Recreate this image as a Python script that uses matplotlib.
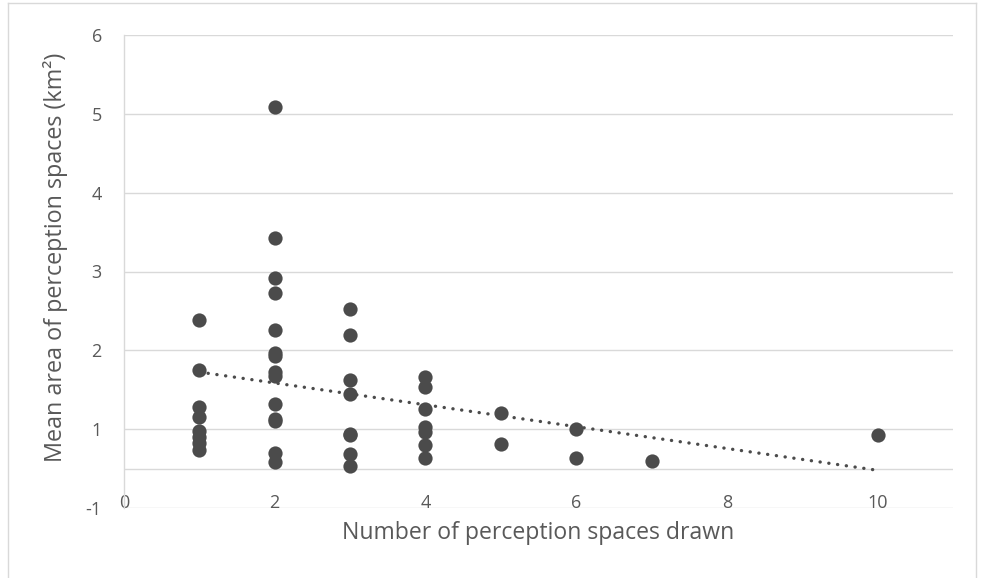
import numpy as np
import matplotlib
matplotlib.use("Agg")
import matplotlib.pyplot as plt
from matplotlib.lines import Line2D

# ---- data ----
x_vals = ([1] * 8 + [2] * 14 + [3] * 8 + [4] * 7 + [5] * 2 + [6] * 2 + [7] + [10])
y_vals = ([2.38, 1.75, 1.28, 1.16, 0.98, 0.90, 0.82, 0.74] +
          [5.09, 3.43, 2.92, 2.73, 2.26, 1.97, 1.93, 1.73, 1.67, 1.32, 1.13, 1.10, 0.70, 0.58] +
          [2.52, 2.20, 1.63, 1.45, 0.94, 0.93, 0.69, 0.53] +
          [1.66, 1.53, 1.25, 1.03, 0.96, 0.80, 0.64] +
          [1.21, 0.81] +
          [1.00, 0.64] +
          [0.60] +
          [0.93])
x_ticks = [0, 2, 4, 6, 8, 10]
x_tick_labels = ["0", "2", "4", "6", "8", "10"]
y_ticks = [0, 0.5, 1, 2, 3, 4, 5, 6]
y_tick_labels = ["-1", "", "1", "2", "3", "4", "5", "6"]
x_label = "Number of perception spaces drawn"
y_label = "Mean area of perception spaces (km²)"

plt.rcParams['font.family'] = ['Open Sans', 'DejaVu Sans']
txt = '#595959'
grid = '#d9d9d9'
mark = '#4b4b4b'

W, H = 982, 578
fig = plt.figure(figsize=(W / 100, H / 100), dpi=100)
ax = fig.add_axes([124 / W, 1 - 508 / H, (953 - 124) / W, (508 - 35) / H])

ax.set_xlim(0, 11)
ax.set_ylim(0, 6)

for yt in y_ticks:
    ax.axhline(yt, color=grid, lw=1.0, zorder=1)
for s in ['top', 'right', 'bottom']:
    ax.spines[s].set_visible(False)
ax.spines['left'].set_color(grid)
ax.spines['left'].set_linewidth(1.0)

ax.set_yticks(y_ticks, y_tick_labels)
ax.set_xticks(x_ticks, x_tick_labels)
ax.tick_params(axis='both', length=0, labelsize=13, labelcolor=txt)
ax.tick_params(axis='y', pad=16)
ax.tick_params(axis='x', pad=-10)

ax.scatter(x_vals, y_vals, s=105, color=mark, zorder=3, linewidths=0)

# linear trendline (least squares) over the data range
coef = np.polyfit(x_vals, y_vals, 1)
xt = np.array([min(x_vals), max(x_vals)])
ax.plot(xt, np.polyval(coef, xt), color=mark, lw=2.4, linestyle=(0, (0.05, 2.6)),
        dash_capstyle='round', zorder=4)

ax.set_xlabel(x_label, fontsize=16.6, color=txt)
ax.xaxis.set_label_coords(0.5, -0.027)
ax.set_ylabel(y_label, fontsize=16.8, color=txt)
ax.yaxis.set_label_coords(-0.068, 0.53)

# chart-area border
for (xa, ya, xb, yb) in [(8, 3, 8, 578), (8, 3, 976, 3), (976, 3, 976, 578)]:
    fig.add_artist(Line2D([xa / W, xb / W], [1 - ya / H, 1 - yb / H], color=grid, lw=1.0,
                          transform=fig.transFigure))

fig.savefig("out.png", dpi=100)
